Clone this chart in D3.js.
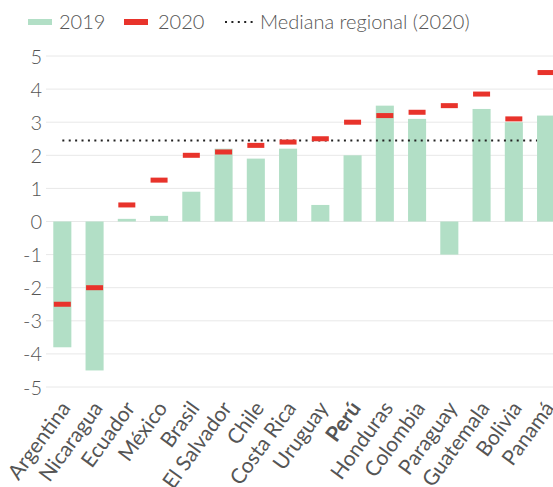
<!DOCTYPE html>
<html><head><meta charset="utf-8">
<script src="https://cdn.jsdelivr.net/npm/d3@7"></script>
<style>body{margin:0;background:#fff}svg{display:block}</style>
</head><body>
<svg id="c" width="553" height="487"></svg>
<script>
const categories = ["Argentina","Nicaragua","Ecuador","México","Brasil","El Salvador","Chile","Costa Rica","Uruguay","Perú","Honduras","Colombia","Paraguay","Guatemala","Bolivia","Panamá"];
const values2019 = [-3.8,-4.5,0.08,0.17,0.9,2.2,1.9,2.2,0.5,2.0,3.5,3.1,-1.0,3.4,3.0,3.2];
const values2020 = [-2.5,-2.0,0.5,1.25,2.0,2.1,2.3,2.4,2.5,3.0,3.2,3.3,3.5,3.85,3.1,4.5];
const median2020 = 2.45;
const yTicks = [-5,-4,-3,-2,-1,0,1,2,3,4,5];
const legendLabels = ["2019","2020","Mediana regional (2020)"];

const svg = d3.select("#c");
const font = "Lato, 'Open Sans', sans-serif";
const textColor = "#555";
const green = "#b2dfc6", red = "#e8332b";

const x = d3.scaleBand().domain(categories).range([46.2, 46.2 + 16*32.25]).paddingInner(0.44).paddingOuter(0.22);
const y = d3.scaleLinear().domain([-5,5]).range([387,56]);

// grid
svg.append("g").selectAll("line").data(yTicks).join("line")
  .attr("x1",46).attr("x2",553).attr("y1",d=>y(d)).attr("y2",d=>y(d))
  .attr("stroke","#e8e8e8").attr("stroke-width",1);

// y axis labels
const yAxis = d3.axisLeft(y).tickValues(yTicks).tickSize(0).tickPadding(0).tickFormat(d3.format("d"));
const yg = svg.append("g").attr("transform","translate(42,0)").call(yAxis);
yg.select(".domain").remove();
yg.selectAll("text").attr("font-family",font).attr("font-size",20).attr("fill",textColor).attr("font-weight",300)
  .attr("text-anchor","end").attr("dy","0.35em").text(d=>d<0? "-"+Math.abs(d): d);

// bars
svg.append("g").selectAll("rect").data(categories).join("rect")
  .attr("x",d=>x(d)).attr("width",x.bandwidth())
  .attr("y",(d,i)=>y(Math.max(0,values2019[i])))
  .attr("height",(d,i)=>Math.abs(y(values2019[i])-y(0)))
  .attr("fill",green);

// median line
svg.append("line")
  .attr("x1",x(categories[0])+x.bandwidth()/2)
  .attr("x2",x(categories[categories.length-1]))
  .attr("y1",y(median2020)).attr("y2",y(median2020))
  .attr("stroke","#222").attr("stroke-width",2).attr("stroke-dasharray","2 4.4");

// 2020 markers
const mw = 17, mh = 5;
svg.append("g").selectAll("rect").data(categories).join("rect")
  .attr("x",d=>x(d)+x.bandwidth()/2-mw/2).attr("width",mw)
  .attr("y",(d,i)=>y(values2020[i])-mh/2).attr("height",mh)
  .attr("fill",red);

// x labels
const xAxis = d3.axisBottom(x).tickSize(0).tickPadding(0);
const xg = svg.append("g").attr("transform","translate(0,405.5)").call(xAxis);
xg.select(".domain").remove();
xg.selectAll("text")
  .attr("font-family",font).attr("font-size",21).attr("fill",textColor).attr("font-weight",d=>d==="Perú"?700:400)
  .attr("text-anchor","end").attr("dy","0.43em").attr("dx","0.15em")
  .attr("transform","rotate(-54)").attr("y",0);

// legend
const lg = svg.append("g");
lg.append("rect").attr("x",28).attr("y",19).attr("width",24).attr("height",6).attr("fill",green);
lg.append("text").attr("x",59).attr("y",29).text(legendLabels[0]);
lg.append("rect").attr("x",124).attr("y",19).attr("width",24).attr("height",6).attr("fill",red);
lg.append("text").attr("x",158).attr("y",29).text(legendLabels[1]);
lg.append("line").attr("x1",225).attr("x2",254).attr("y1",22).attr("y2",22)
  .attr("stroke","#222").attr("stroke-width",2).attr("stroke-dasharray","2 4.4");
lg.append("text").attr("x",260).attr("y",29).text(legendLabels[2]);
lg.selectAll("text").attr("font-family",font).attr("font-size",20).attr("fill",textColor).attr("font-weight",300);
</script>
</body></html>
